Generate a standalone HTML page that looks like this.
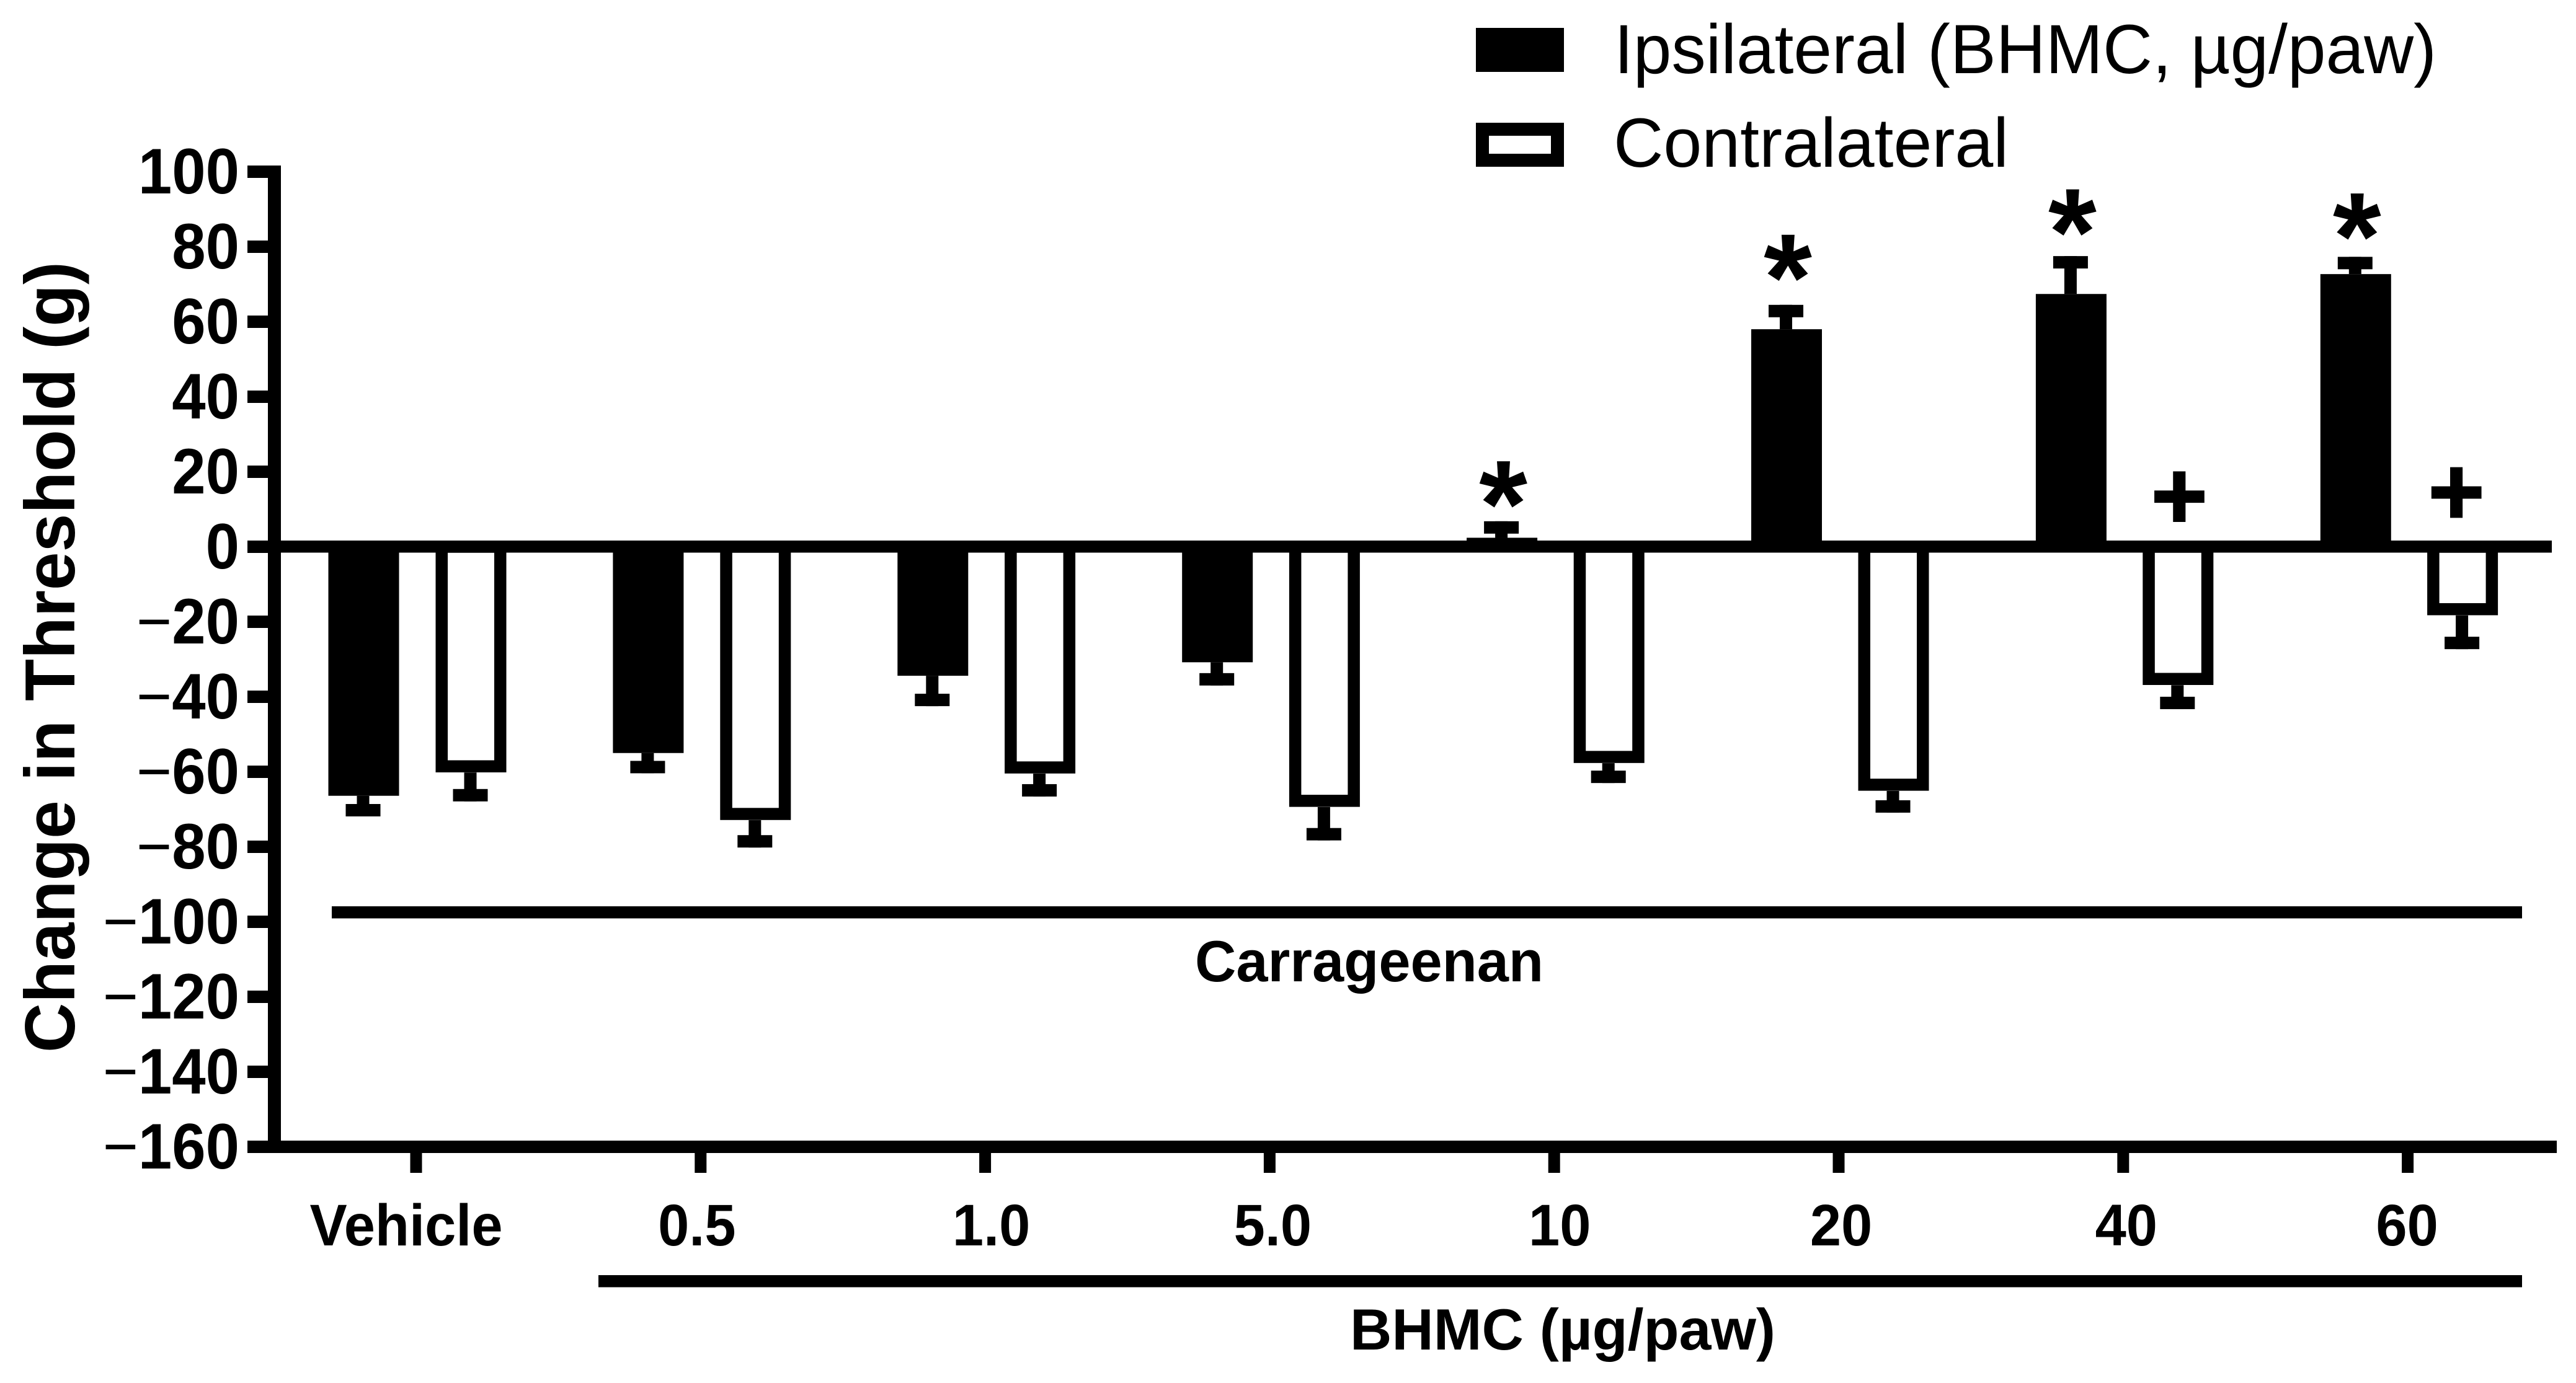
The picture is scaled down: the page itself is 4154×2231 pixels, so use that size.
<!DOCTYPE html>
<html lang="en">
<head>
<meta charset="utf-8">
<title>Change in Threshold by BHMC dose</title>
<style>
html,body{margin:0;padding:0;background:#fff;width:4154px;height:2231px;overflow:hidden}
svg{display:block}
text{font-family:"Liberation Sans",Arial,sans-serif;fill:#000}
.b{font-weight:700}
</style>
</head>
<body>
<svg id="chart" xmlns="http://www.w3.org/2000/svg" width="4154" height="2231" viewBox="0 0 4154 2231">
  <rect x="0" y="0" width="4154" height="2231" fill="#fff"/>
  <g id="marks"></g>
  <g id="axes"></g>

  <text class="b" font-size="114" transform="translate(120 1698) rotate(-90)" textLength="1276" lengthAdjust="spacingAndGlyphs">Change in Threshold (g)</text>

  <rect x="535" y="1462" width="3532" height="19.5" fill="#000"/>
  <text class="b" font-size="94" x="2208" y="1583" text-anchor="middle" textLength="562" lengthAdjust="spacingAndGlyphs">Carrageenan</text>

  <rect x="965" y="2057" width="3102" height="19.5" fill="#000"/>
  <text class="b" font-size="94" x="2520" y="2177" text-anchor="middle" textLength="686" lengthAdjust="spacingAndGlyphs">BHMC (µg/paw)</text>

  <g>
    <rect x="2380" y="45" width="142" height="71" fill="#000"/>
    <text font-size="112" x="2603" y="118" textLength="1326" lengthAdjust="spacingAndGlyphs">Ipsilateral (BHMC, µg/paw)</text>
    <rect x="2390.5" y="208.5" width="121" height="50" fill="#fff" stroke="#000" stroke-width="21"/>
    <text font-size="112" x="2602" y="269" textLength="637" lengthAdjust="spacingAndGlyphs">Contralateral</text>
  </g>
</svg>
<script>
const categories = ["Vehicle", "0.5", "1.0", "5.0", "10", "20", "40", "60"];
const ipsilateral = [-66.4, -55.0, -34.4, -30.8, 2.4, 58.0, 67.4, 72.7];
const ipsilateralErr = [5.5, 5.4, 8.1, 6.2, 4.4, 6.5, 10.1, 4.6];
const contralateral = [-60.2, -72.9, -60.5, -69.4, -57.7, -65.1, -36.9, -18.3];
const contralateralErr = [7.7, 7.3, 6.1, 8.9, 5.3, 5.8, 6.4, 9.0];
const yTicks = [100, 80, 60, 40, 20, 0, -20, -40, -60, -80, -100, -120, -140, -160];
const starLevels = [null, null, null, null, 16.9, 77.3, 89.4, 88.3];
const plusLevels = [null, null, null, null, null, null, 13.6, 14.7];

const NS = "http://www.w3.org/2000/svg";
const marks = document.getElementById("marks");
const axes = document.getElementById("axes");

function yScale(v) { return 882 - 6.05 * v; }
function tickX(i) { return 671 + 458.8 * i; }
function ipsX(i) { return 586.5 + 458.9 * i; }
function conX(i) { return 759.5 + 458.8 * i; }

function make(tag, parent, attrs) {
  const el = document.createElementNS(NS, tag);
  for (const k in attrs) el.setAttribute(k, attrs[k]);
  parent.appendChild(el);
  return el;
}

function drawError(cx, value, err, series) {
  const dir = value < 0 ? 1 : -1;
  const barEnd = yScale(value);
  const capEnd = yScale(value - dir * err);
  const stem = make("rect", marks, { x: cx - 10, width: 20, y: Math.min(barEnd, capEnd), height: Math.abs(capEnd - barEnd), fill: "#000" });
  
  
  const capTop = dir > 0 ? capEnd - 20 : capEnd;
  const cap = make("rect", marks, { x: cx - 28, width: 56, y: capTop, height: 20, fill: "#000" });
  
  
}

// Ipsilateral: solid bars
ipsilateral.forEach(function (v, i) {
  const cx = ipsX(i);
  drawError(cx - 1, v, ipsilateralErr[i], 'ipsilateral');
  const y0 = yScale(0), y1 = yScale(v);
  const bar = make("rect", marks, { x: cx - 57, width: 114, y: Math.min(y0, y1), height: Math.abs(y1 - y0), fill: "#000" });
  
  
});

// Contralateral: outlined bars
contralateral.forEach(function (v, i) {
  const cx = conX(i);
  drawError(cx - 1, v, contralateralErr[i], 'contralateral');
  const y0 = yScale(0), y1 = yScale(v);
  const bar = make("rect", marks, { x: cx - 47.25, width: 94.5, y: y0, height: y1 - y0 - 10, fill: "#fff", stroke: "#000", "stroke-width": 19.5 });
  
  
});

// Significance markers
starLevels.forEach(function (level, i) {
  if (level === null) return;
  const t = make("text", marks, { x: ipsX(i) + 2, y: yScale(level) + 102, "font-size": 200, "text-anchor": "middle", "class": "b" });
  t.textContent = "*";
  
  
});
plusLevels.forEach(function (level, i) {
  if (level === null) return;
  const nudge = i === 7 ? -10 : 2;
  const t = make("text", marks, { x: conX(i) + nudge, y: yScale(level) + 53, "font-size": 155, "text-anchor": "middle", "class": "b", stroke: "#000", "stroke-width": 3 });
  t.textContent = "+";
  
  
});

// Y axis
const yLine = make("rect", axes, { x: 432, y: yScale(100) - 10, width: 21, height: yScale(-160) - yScale(100) + 20, fill: "#000" });



yTicks.forEach(function (v) {
  const yy = yScale(v);
  const tick = make("rect", axes, { x: 399, y: yy - 10, width: 40, height: 20, fill: "#000" });
  
  
  const label = make("text", axes, { transform: "translate(386 " + (yy + 35) + ") scale(0.94 1)", "font-size": 104, "text-anchor": "end", "class": "b" });
  
  
  if (v < 0) {
    const dash = make("tspan", label, { "font-weight": 400 });
    dash.textContent = "\u2212";
    const num = make("tspan", label, {});
    num.textContent = String(-v);
  } else {
    label.textContent = String(v);
  }
});

// Zero line and bottom axis
const zeroLine = make("rect", axes, { x: 399, y: yScale(0) - 10, width: 3716, height: 19.5, fill: "#000" });



const xLine = make("rect", axes, { x: 399, y: yScale(-160) - 10, width: 3724, height: 20, fill: "#000" });



// X ticks and category labels
function labelNudge(name) {
  const nudges = { "Vehicle": -16, "0.5": -6, "1.0": 10, "5.0": 5, "10": 9, "20": 4, "40": 5, "60": -1 };
  return nudges[name] || 0;
}
categories.forEach(function (name, i) {
  const x = tickX(i);
  const tick = make("rect", axes, { x: x - 9.5, y: 1859, width: 19, height: 33, fill: "#000" });
  
  
  const label = make("text", axes, { transform: "translate(" + (x + labelNudge(name)) + " 2009) scale(0.95 1)", "font-size": 95, "text-anchor": "middle", "class": "b" });
  label.textContent = name;
  
  
});
</script>
</body>
</html>
